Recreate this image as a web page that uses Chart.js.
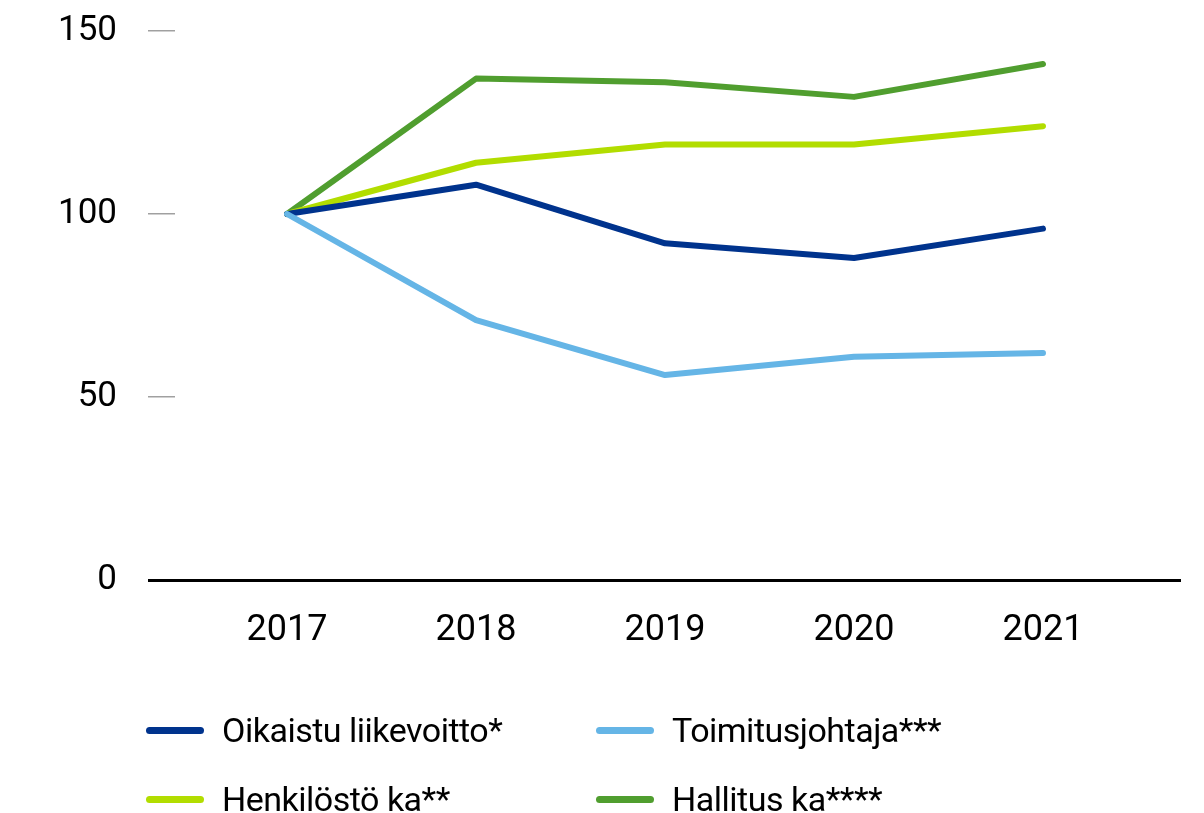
<!DOCTYPE html>
<html>
<head>
<meta charset="utf-8">
<script src="https://cdn.jsdelivr.net/npm/chart.js@4/dist/chart.umd.min.js"></script>
<style>
  html, body { margin: 0; padding: 0; background: #fff; }
  #wrap { position: relative; width: 1204px; height: 813px; }
  #legend { position: absolute; left: 0; top: 0; width: 1204px; height: 813px; pointer-events: none;
    font-family: 'Roboto', sans-serif; font-size: 34px; color: #000; letter-spacing: -0.5px; }
  .item { position: absolute; display: flex; align-items: center; }
  .swatch { width: 58px; height: 7px; border-radius: 4px; margin-right: 18px; }
</style>
</head>
<body>
<div id="wrap">
  <canvas id="c" width="1204" height="813"></canvas>
  <div id="legend"></div>
</div>
<script>
const years = ['2017', '2018', '2019', '2020', '2021'];
const yTicks = [0, 50, 100, 150];
const seriesNames = ['Oikaistu liikevoitto*', 'Toimitusjohtaja***', 'Henkilöstö ka**', 'Hallitus ka****'];
const oikaistu = [100, 108, 92, 88, 96];
const toimitusjohtaja = [100, 71, 56, 61, 62];
const henkilosto = [100, 114, 119, 119, 124];
const hallitus = [100, 137, 136, 132, 141];
const colors = ['#00338d', '#65b5e6', '#b2dd00', '#509e2f'];

const FONT = "'Roboto', sans-serif";
const seriesData = [oikaistu, toimitusjohtaja, henkilosto, hallitus];
const order = [1, 0, 2, 3];
const datasets = order.map(i => ({
  label: seriesNames[i],
  data: seriesData[i].map((v, k) => ({ x: k, y: v })),
  borderColor: colors[i],
  backgroundColor: colors[i],
  borderWidth: 6,
  borderCapStyle: 'round',
  borderJoinStyle: 'round',
  pointRadius: 0,
  tension: 0,
  fill: false
}));

new Chart(document.getElementById('c'), {
  type: 'line',
  data: { datasets },
  options: {
    responsive: false,
    animation: false,
    events: [],
    layout: { padding: { top: 31, right: 24, left: 0, bottom: 0 } },
    plugins: { legend: { display: false }, tooltip: { enabled: false } },
    scales: {
      x: {
        type: 'linear',
        min: -0.593,
        max: 4.725,
        afterBuildTicks: s => { s.ticks = years.map((_, i) => ({ value: i })); },
        afterFit: s => { s.height = 233; s.paddingLeft = 0; s.paddingRight = 0; },
        grid: { display: false, drawTicks: false },
        border: { display: true, color: '#000', width: 3 },
        ticks: {
          padding: 29,
          autoSkip: false,
          maxRotation: 0,
          color: '#000',
          font: { family: FONT, size: 36 },
          callback: v => years[v] ?? ''
        }
      },
      y: {
        min: 0,
        max: 150,
        afterBuildTicks: s => { s.ticks = yTicks.map(v => ({ value: v })); },
        afterFit: s => { s.width = 175; s.paddingTop = 0; s.paddingBottom = 0; },
        border: { display: false },
        grid: {
          drawOnChartArea: false,
          drawTicks: true,
          tickLength: 27,
          color: c => c.tick && c.tick.value === 0 ? '#000' : '#a0a0a0',
          lineWidth: c => c.tick && c.tick.value === 0 ? 3 : 1.5
        },
        ticks: {
          padding: 31,
          color: '#000',
          font: { family: FONT, size: 35 }
        }
      }
    }
  }
});

const legend = document.getElementById('legend');
const pos = [
  { left: 146, top: 730 }, { left: 596, top: 730 },
  { left: 146, top: 799 }, { left: 596, top: 799 }
];
[0, 1, 2, 3].forEach((i, k) => {
  const el = document.createElement('div');
  el.className = 'item';
  el.style.left = pos[k].left + 'px';
  el.style.top = (pos[k].top - 22) + 'px';
  el.style.height = '44px';
  const sw = document.createElement('div');
  sw.className = 'swatch';
  sw.style.background = colors[i];
  const tx = document.createElement('span');
  tx.textContent = seriesNames[i];
  el.appendChild(sw);
  el.appendChild(tx);
  legend.appendChild(el);
});
</script>
</body>
</html>
